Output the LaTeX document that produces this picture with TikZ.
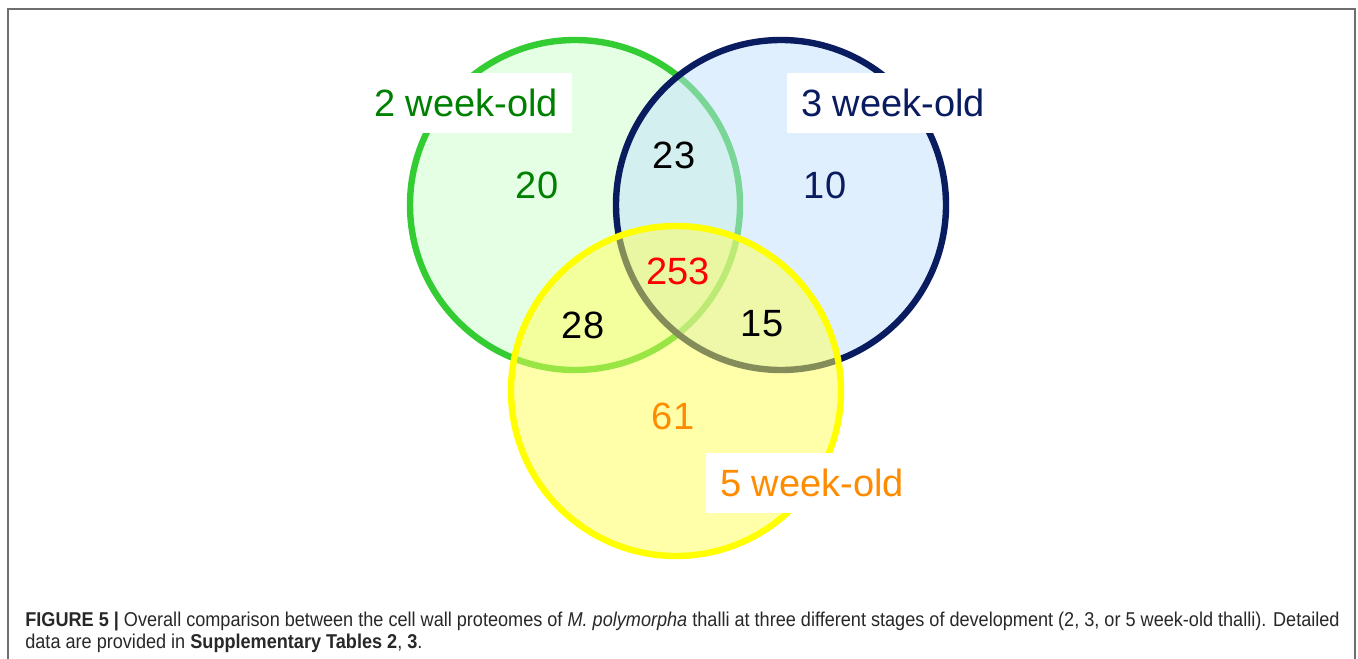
\documentclass[tikz,border=0pt]{standalone}
\usepackage{fontspec}
\setmainfont{Liberation Sans}
\definecolor{gstroke}{RGB}{51,204,51}
\definecolor{gfill}{RGB}{204,255,204}
\definecolor{gtext}{RGB}{0,128,0}
\definecolor{bstroke}{RGB}{10,28,96}
\definecolor{bfill}{RGB}{194,225,252}
\definecolor{btext}{RGB}{10,28,96}
\definecolor{ystroke}{RGB}{255,255,0}
\definecolor{yfill}{RGB}{255,255,85}
\definecolor{otext}{RGB}{255,140,0}
\definecolor{framegray}{RGB}{110,110,110}
\definecolor{captext}{RGB}{40,40,40}
\tikzset{
  venn/.style={circle, minimum size=165pt, inner sep=0pt, outer sep=0pt, line width=3.2pt, fill opacity=0.5},
  lbl/.style={fill=white, inner sep=0pt, minimum width=106pt, minimum height=30pt, font=\fontsize{19}{21}\selectfont},
  num/.style={inner sep=0pt, font=\fontsize{19}{21}\selectfont},
  captxt/.style={anchor=base west, inner sep=0pt, text=captext, xscale=0.905, font=\fontsize{10}{12}\selectfont}
}
\begin{document}
\begin{tikzpicture}[x=0.5pt,y=-0.5pt]
\useasboundingbox (0,0) rectangle (1358,658);
\fill[white] (0,0) rectangle (1358,658);
\draw[framegray, line width=1pt] (8,700) -- (8,9) -- (1355,9) -- (1355,700);
% circles
\node[venn, draw=gstroke, fill=gfill] (c2) at (575,205) {};
\node[venn, draw=bstroke, fill=bfill] (c3) at (781,205) {};
\node[venn, draw=ystroke, fill=yfill] (c5) at (676,391) {};
% labels
\node[lbl, text=gtext] (l2) at (466,103) {2 week-old};
\node[lbl, text=btext] (l3) at (893,103) {3 week-old};
\node[lbl, text=otext] (l5) at (812,483) {5 week-old};
% numbers
\node[num, text=gtext] (n20) at (537,185) {20};
\node[num, text=black] (n23) at (674,155) {23};
\node[num, text=btext] (n10) at (825,185) {10};
\node[num, text=red] (n253) at (678,271) {253};
\node[num, text=black] (n28) at (583,325) {28};
\node[num, text=black] (n15) at (762,324) {15};
\node[num, text=otext] (n61) at (673,416) {61};
% caption
\node[captxt] (cap1) at (25,626) {\textbf{FIGURE 5 |} Overall comparison between the cell wall proteomes of \textit{M. polymorpha} thalli at three different stages of development (2, 3, or 5 week-old thalli). Detailed};
\node[captxt] (cap2) at (25,648) {data are provided in \textbf{Supplementary Tables 2}, \textbf{3}.};
\end{tikzpicture}
\end{document}
